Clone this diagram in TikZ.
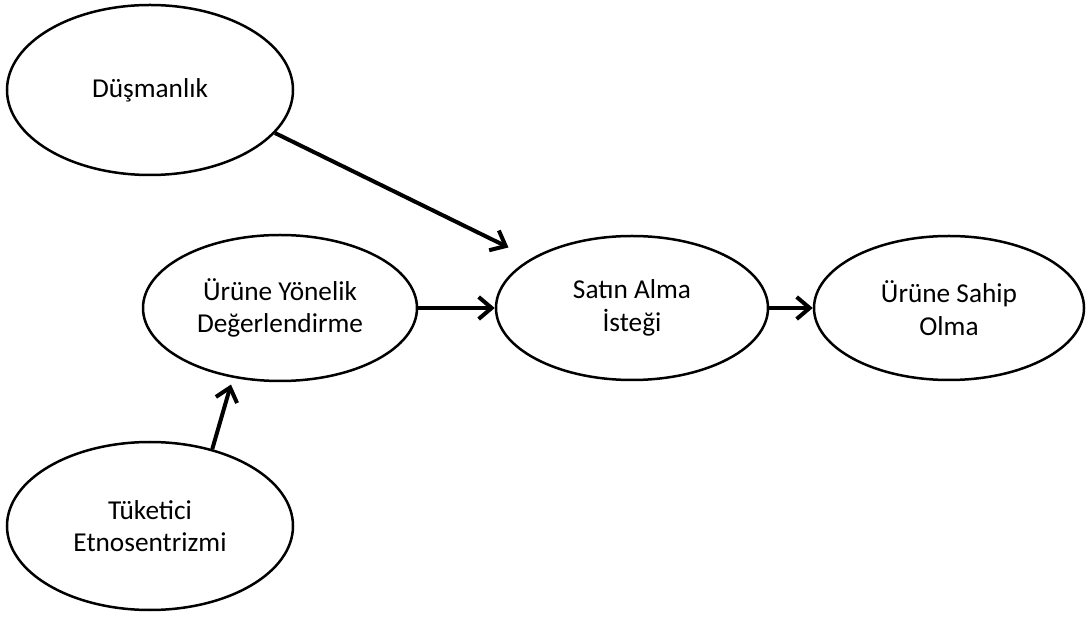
\documentclass[tikz,border=0pt]{standalone}
\usepackage{fontspec}
\setmainfont{Carlito}
\usetikzlibrary{shapes.geometric,arrows.meta}

\begin{document}
\begin{tikzpicture}[x=1pt,y=1pt,
	kavram/.style={ellipse,draw,line width=2.5pt,inner sep=0pt,align=center,
		font=\fontsize{27.3}{32.5}\selectfont},
	etki/.style={line width=4pt,-{Straight Barb[length=13pt,width=22pt]}}]
	\useasboundingbox (0,0) rectangle (1086,621);
	% kavramlar
	\node[kavram,minimum width=286,minimum height=170] (dusmanlik) at (150,531) {Düşmanlık};
	\node[kavram,minimum width=274,minimum height=146] (deger) at (280,313) {Ürüne Yönelik\\Değerlendirme};
	\node[kavram,minimum width=272,minimum height=144] (istek) at (632,313) {Satın Alma\\İsteği};
	\node[kavram,minimum width=270,minimum height=144] (sahip) at (949,313) {Ürüne Sahip\\Olma};
	\node[kavram,minimum width=286,minimum height=168] (etno) at (150,95) {Tüketici\\Etnosentrizmi};
	% yollar
	\draw[etki,shorten >=25pt] (dusmanlik.-19) -- (istek);
	\draw[etki] (deger) -- (istek);
	\draw[etki] (istek) -- (sahip);
	\draw[etki,shorten >=7pt] (etno.51) -- (deger.236);
\end{tikzpicture}
\end{document}
